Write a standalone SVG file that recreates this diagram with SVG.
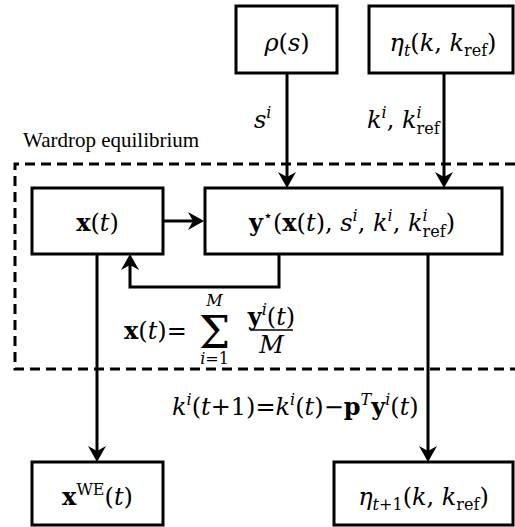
<svg xmlns="http://www.w3.org/2000/svg" width="515" height="527" viewBox="0 0 515 527">
<style>
.box{fill:#fff;stroke:#000;stroke-width:3}
.ln{fill:none;stroke:#000;stroke-width:3}
.dash{fill:none;stroke:#000;stroke-width:3;stroke-dasharray:10 6}
.m{font-family:"DejaVu Serif",serif;font-size:24px;fill:#000}
.i{font-style:italic}
.b{font-weight:bold}
.s{font-size:16px}
.t{font-family:"Liberation Serif","Times New Roman",serif;font-size:21px;fill:#000}
</style>
<defs>
<marker id="ah" viewBox="-16 -9 16 18" refX="-8" refY="0" markerWidth="16" markerHeight="18" markerUnits="userSpaceOnUse" orient="auto">
<path d="M0,0 L-16,-9 L-11,0 L-16,9 Z" fill="#000"/>
</marker>
</defs>

<g id="wardrop-region">
<path class="dash" d="M515,164 H15 V369 H515"/>
<text class="t" x="23" y="147">Wardrop equilibrium</text>
</g>

<g id="connectors">
<path class="ln" d="M287,73 V180" marker-end="url(#ah)"/>
<path class="ln" d="M444,73 V180" marker-end="url(#ah)"/>
<path class="ln" d="M163,221 H196" marker-end="url(#ah)"/>
<path class="ln" d="M279,254 V287 H130 V262" marker-end="url(#ah)"/>
<path class="ln" d="M97,254 V454" marker-end="url(#ah)"/>
<path class="ln" d="M428,254 V454" marker-end="url(#ah)"/>
<text class="m" x="254" y="128"><tspan class="i">s</tspan><tspan class="s i" dy="-10">i</tspan></text>
<text class="m" x="367" y="128"><tspan class="i">k</tspan><tspan class="s i" dy="-10">i</tspan><tspan dy="10">, </tspan><tspan class="i">k</tspan><tspan class="s i" dy="-10">i</tspan><tspan class="s" dx="-5" dy="16">ref</tspan></text>
<g id="sum-label">
<text class="m" x="124" y="339"><tspan class="b">x</tspan>(<tspan class="i">t</tspan>)=</text>
<text class="m" x="214.5" y="348" text-anchor="middle" style="font-size:44px">Σ</text>
<text class="m s i" x="214.5" y="306" text-anchor="middle">M</text>
<text class="m s" x="214.5" y="364" text-anchor="middle"><tspan class="i">i</tspan>=1</text>
<text class="m" x="271.5" y="325" text-anchor="middle"><tspan class="b">y</tspan><tspan class="s i" dy="-10">i</tspan><tspan dy="10">(</tspan><tspan class="i">t</tspan>)</text>
<path d="M250,330 H293" stroke="#000" stroke-width="1.5"/>
<text class="m i" x="271.5" y="353" text-anchor="middle">M</text>
</g>
<text id="update-label" class="m" x="172" y="415"><tspan class="i">k</tspan><tspan class="s i" dy="-10">i</tspan><tspan dy="10">(</tspan><tspan class="i">t</tspan>+1)=<tspan class="i">k</tspan><tspan class="s i" dy="-10">i</tspan><tspan dy="10">(</tspan><tspan class="i">t</tspan>)−<tspan class="b">p</tspan><tspan class="s i" dy="-10">T</tspan><tspan class="b" dy="10">y</tspan><tspan class="s i" dy="-10">i</tspan><tspan dy="10">(</tspan><tspan class="i">t</tspan>)</text>
</g>

<g id="rho">
<rect class="box" x="236" y="6" width="101" height="67"/>
<text class="m" x="287" y="51" text-anchor="middle"><tspan class="i">ρ</tspan>(<tspan class="i">s</tspan>)</text>
</g>

<g id="eta-t">
<rect class="box" x="369" y="6" width="144" height="67"/>
<text class="m" x="443" y="51" text-anchor="middle"><tspan class="i">η</tspan><tspan class="s i" dy="5">t</tspan><tspan dy="-5">(</tspan><tspan class="i">k</tspan>, <tspan class="i">k</tspan><tspan class="s" dy="5">ref</tspan><tspan dy="-5">)</tspan></text>
</g>

<g id="x-t">
<rect class="box" x="32" y="188" width="131" height="66"/>
<text class="m" x="97.5" y="231" text-anchor="middle"><tspan class="b">x</tspan>(<tspan class="i">t</tspan>)</text>
</g>

<g id="y-star">
<rect class="box" x="205" y="188" width="297" height="66"/>
<text class="m" x="352" y="231" text-anchor="middle"><tspan class="b">y</tspan><tspan class="s" dy="-10">⋆</tspan><tspan dy="10">(</tspan><tspan class="b">x</tspan>(<tspan class="i">t</tspan>), <tspan class="i">s</tspan><tspan class="s i" dy="-10">i</tspan><tspan dy="10">, </tspan><tspan class="i">k</tspan><tspan class="s i" dy="-10">i</tspan><tspan dy="10">, </tspan><tspan class="i">k</tspan><tspan class="s i" dy="-10">i</tspan><tspan class="s" dx="-5" dy="16">ref</tspan><tspan dy="-6">)</tspan></text>
</g>

<g id="x-we">
<rect class="box" x="32" y="462" width="131" height="63"/>
<text class="m" x="97.5" y="505" text-anchor="middle"><tspan class="b">x</tspan><tspan class="s" dy="-10">WE</tspan><tspan dy="10">(</tspan><tspan class="i">t</tspan>)</text>
</g>

<g id="eta-t1">
<rect class="box" x="334" y="462" width="179" height="63"/>
<text class="m" x="423.5" y="505" text-anchor="middle"><tspan class="i">η</tspan><tspan class="s" dy="5"><tspan class="i">t</tspan>+1</tspan><tspan dy="-5">(</tspan><tspan class="i">k</tspan>, <tspan class="i">k</tspan><tspan class="s" dy="5">ref</tspan><tspan dy="-5">)</tspan></text>
</g>
</svg>
